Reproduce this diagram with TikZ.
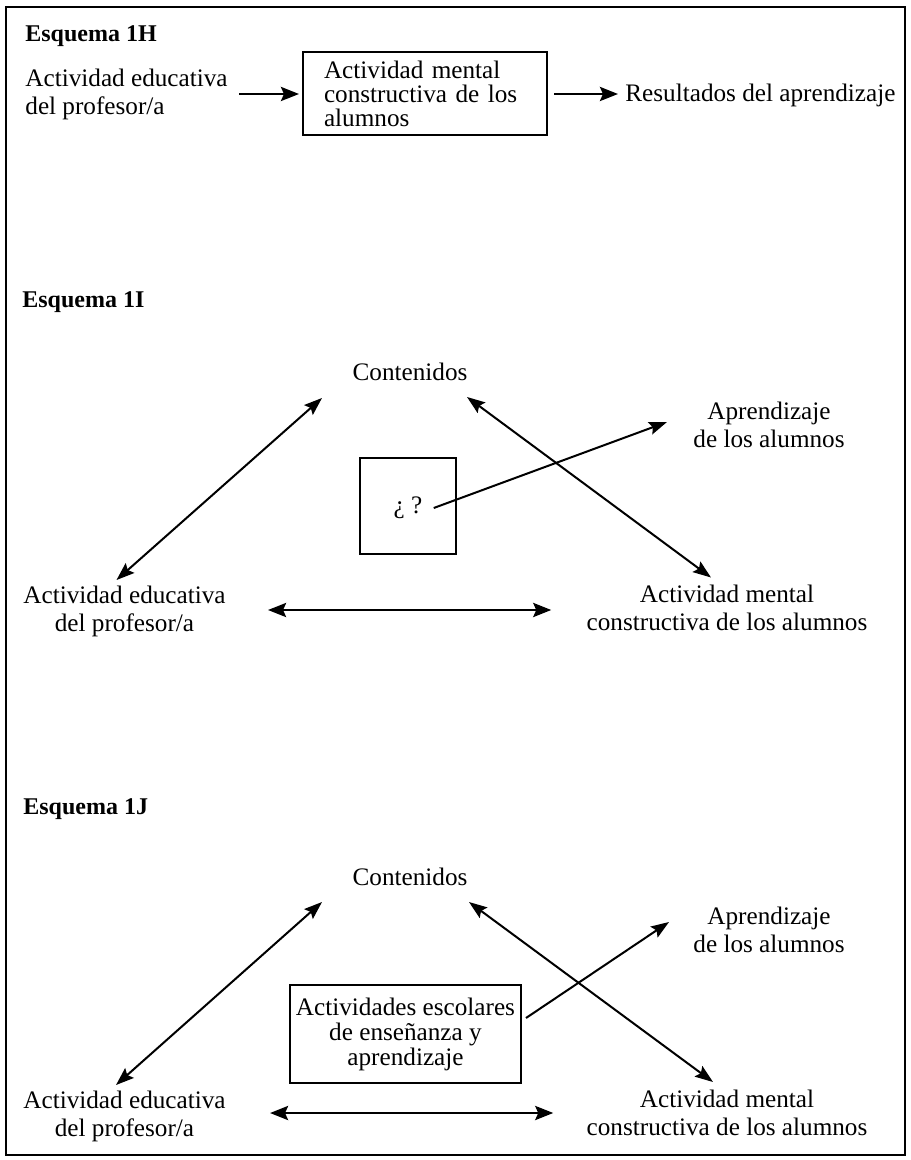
\documentclass[tikz,border=0pt]{standalone}
\usepackage{fontspec}
\setmainfont{Liberation Serif}
\usetikzlibrary{arrows.meta}
\begin{document}
\begin{tikzpicture}[x=0.5pt,y=-0.5pt,
  txt/.style={inner sep=0pt, font=\fontsize{12.6}{14}\selectfont, align=center},
  ttl/.style={inner sep=0pt, anchor=base west, font=\fontsize{12}{14}\selectfont\bfseries},
  boxnode/.style={draw, line width=1pt, inner sep=0pt},
  sgl/.style={-{Stealth[length=9pt,width=7pt,inset=1.5pt]}, line width=1.4pt},
  dgl/.style={{Stealth[length=9pt,width=6.5pt,inset=1.5pt]}-{Stealth[length=9pt,width=6.5pt,inset=1.5pt]}, line width=1pt},
  one/.style={-{Stealth[length=9pt,width=6.5pt,inset=1.5pt]}, line width=1pt},
  hor/.style={{Stealth[length=9pt,width=7pt,inset=1.5pt]}-{Stealth[length=9pt,width=7pt,inset=1.5pt]}, line width=1.4pt},
]
\useasboundingbox (0,0) rectangle (910,1160);
\fill[white] (0,0) rectangle (910,1160);
\draw[line width=1.1pt] (6,7) rectangle (905,1155);

% ---------- Esquema 1H ----------
\node[ttl] (htitle) at (25,42) {Esquema 1H};
\node[txt, align=left, anchor=west] (hprof) at (25,94) {Actividad educativa\\del profesor/a};
\node[boxnode, align=left, text width=101pt, inner xsep=10.5pt, minimum height=41.5pt,
      font=\fontsize{12.6}{12}\selectfont] (hbox) at (425,94) {Actividad mental\\constructiva de los\\alumnos};
\node[txt, anchor=west] (hres) at (625,95) {Resultados del aprendizaje};
\draw[sgl, shorten <=5.5pt, shorten >=1.5pt] (hprof.east) -- (hbox.west);
\draw[sgl, shorten <=3pt, shorten >=3.5pt] (hbox.east) -- (hres.west |- hbox.east);

% ---------- Esquema 1I ----------
\node[ttl] (ititle) at (22,307) {Esquema 1I};
\node[txt] (icont) at (410,372) {Contenidos};
\node[txt] (iapr) at (769,425) {Aprendizaje\\de los alumnos};
\node[boxnode, minimum width=48pt, minimum height=48pt] (ibox) at (408,506) {};
\node[txt] (iq) at (408,508) {¿ ?};
\node[txt] (iprof) at (124.5,611) {Actividad educativa\\del profesor/a};
\node[txt] (iment) at (727,608) {Actividad mental\\constructiva de los alumnos};
\draw[dgl] ([shift={(-8,-31)}]iprof.center) -- ([shift={(-88,26)}]icont.center);
\draw[dgl] ([shift={(57,25)}]icont.center) -- ([shift={(-16,-30.5)}]iment.center);
\draw[one] ([shift={(11,0)}]iq.east) -- ([shift={(-102,-3)}]iapr.center);
\draw[hor] ([shift={(42,-1)}]iprof.east) -- ([shift={(-35,2)}]iment.west);

% ---------- Esquema 1J ----------
\node[ttl] (jtitle) at (23,814) {Esquema 1J};
\node[txt] (jcont) at (410,877) {Contenidos};
\node[txt] (japr) at (769,930) {Aprendizaje\\de los alumnos};
\node[boxnode, align=center, minimum width=115.5pt, minimum height=49pt,
      font=\fontsize{12.6}{12.5}\selectfont] (jbox) at (405.5,1034) {Actividades escolares\\de enseñanza y\\aprendizaje};
\node[txt] (jprof) at (124.5,1116.5) {Actividad educativa\\del profesor/a};
\node[txt] (jment) at (727,1112.5) {Actividad mental\\constructiva de los alumnos};
\draw[dgl] ([shift={(-8.5,-31.5)}]jprof.center) -- ([shift={(-88,25)}]jcont.center);
\draw[dgl] ([shift={(59,25)}]jcont.center) -- ([shift={(-14,-30.5)}]jment.center);
\draw[one] ([shift={(4,-16)}]jbox.east) -- ([shift={(-100,-8)}]japr.center);
\draw[hor] ([shift={(44,-3.5)}]jprof.east) -- ([shift={(-33,0.5)}]jment.west);
\end{tikzpicture}
\end{document}
